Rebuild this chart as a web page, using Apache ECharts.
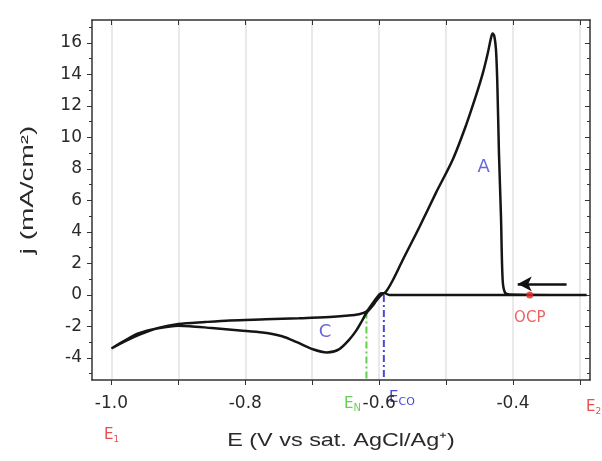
<!DOCTYPE html>
<html><head><meta charset="utf-8">
<script src="https://cdn.jsdelivr.net/npm/echarts@6/dist/echarts.min.js"></script>
<style>html,body{margin:0;padding:0;background:#fff}#c{width:602px;height:461px}</style>
</head><body><div id="c"></div>
<script>
// Cyclic voltammogram: potential E (V) and current density j (mA/cm2)
const sweepE = [-0.29,-0.40,-0.50,-0.585,-0.592,-0.598,-0.604,-0.611,-0.619,-0.63,-0.65,-0.674,-0.72,-0.77,-0.823,-0.86,-0.90,-0.93,-0.957,-0.98,-1.0,
  -0.98,-0.96,-0.93,-0.90,-0.883,-0.85,-0.808,-0.774,-0.745,-0.723,-0.699,-0.678,-0.66,-0.645,-0.634,-0.625,-0.619,-0.61,-0.604,-0.597,-0.59,-0.58,-0.565,-0.54,-0.515,-0.49,-0.47,-0.455,-0.445,-0.438,-0.433,-0.4305,-0.428,-0.4255,-0.4235,-0.421,-0.418,-0.4155,-0.412,-0.405,-0.29];
const sweepJ = [0,0,0,0,0.12,0.1,-0.2,-0.6,-1.05,-1.22,-1.32,-1.4,-1.48,-1.55,-1.62,-1.72,-1.85,-2.1,-2.5,-2.95,-3.4,
  -2.9,-2.45,-2.12,-1.95,-1.98,-2.1,-2.25,-2.38,-2.62,-3.0,-3.45,-3.65,-3.45,-2.85,-2.25,-1.6,-1.15,-0.7,-0.35,0.0,0.2,0.9,2.2,4.3,6.5,8.6,10.8,12.7,14.1,15.3,16.3,16.6,16.45,15.6,13.5,9.0,5.0,0.95,0.15,0.03,0];
const eN = -0.619, eNj = -1.05;
const eCO = -0.593, eCOj = 0;
const ocpE = -0.375, ocpJ = 0;
const arrowFrom = [-0.32, 0.7], arrowTo = [-0.393, 0.7];
const peakLabels = [{name:'A', E:-0.444, j:8.1}, {name:'C', E:-0.681, j:-2.4}];
const xMin = -1.029, xMax = -0.285, yMin = -5.4, yMax = 17.46;
const xTicks = [-1.0,-0.9,-0.8,-0.7,-0.6,-0.5,-0.4,-0.3];
const xLabels = [-1.0,-0.8,-0.6,-0.4];
const yMajor = [-4,-2,0,2,4,6,8,10,12,14,16];
const yMinor = [-5,-3,-1,1,3,5,7,9,11,13,15,17];
const xTitle = 'E (V vs sat. AgCl/Ag\u207A)';
const yTitle = 'j (mA/cm\u00B2)';

const FONT = 'DejaVu Sans, Liberation Sans, sans-serif';
const AX = '#333';
function xAx(pos, inside, labels, grid) {
  return {type:'value', position:pos, min:xMin, max:xMax,
    axisLine:{show:true, onZero:false, lineStyle:{color:AX, width:1.5}},
    axisTick:{show:true, inside:inside, length:5, customValues:xTicks, lineStyle:{color:AX}},
    axisLabel:{show:labels, customValues:xLabels, margin:15, color:'#2a2a2a', fontSize:17, fontFamily:FONT,
      formatter:v=>v.toFixed(1)},
    splitLine:{show:grid, lineStyle:{color:'#e2e2e2', width:1.5}}};
}
function yAx(pos, inside, vals, len, labels, line) {
  return {type:'value', position:pos, min:yMin, max:yMax,
    axisLine:{show:line, onZero:false, lineStyle:{color:AX, width:1.5}},
    axisTick:{show:true, inside:inside, length:len, customValues:vals, lineStyle:{color:AX}},
    axisLabel:{show:labels, customValues:vals, margin:10, color:'#2a2a2a', fontSize:17, fontFamily:FONT},
    splitLine:{show:false}};
}

const chart = echarts.init(document.getElementById('c'), null, {renderer:'canvas'});
chart.setOption({
  animation:false,
  backgroundColor:'#fff',
  grid:{left:92, right:12, top:20, bottom:81},
  xAxis:[xAx('bottom', false, true, true), xAx('top', true, false, false)],
  yAxis:[yAx('left', false, yMajor, 5, true, true), yAx('left', false, yMinor, 3, false, false),
         yAx('right', true, yMajor, 5, false, true), yAx('right', true, yMinor, 3, false, false)],
  series:[
    {type:'line', data: sweepE.map((e,i)=>[e, sweepJ[i]]), showSymbol:false, smooth:0.3,
     lineStyle:{color:'#151515', width:2.5}, z:5},
    {type:'line', data:[[eN, eNj],[eN, yMin]], showSymbol:false,
     lineStyle:{color:'#5fd04a', width:2, type:[7,3,2,3]}, z:4},
    {type:'line', data:[[eCO, eCOj],[eCO, yMin]], showSymbol:false,
     lineStyle:{color:'#4848d8', width:2, type:[7,3,2,3]}, z:4},
    {type:'scatter', data:[[ocpE, ocpJ]], symbolSize:7, itemStyle:{color:'#e82828'}, z:6,
     label:{show:true, formatter:'OCP', position:'bottom', distance:12, color:'#e83a3a', fontSize:15, fontFamily:FONT},
     markLine:{silent:true, symbol:['none','arrow'], symbolSize:[11,14],
       lineStyle:{color:'#111', width:2.5, type:'solid'}, label:{show:false},
       data:[[{coord:arrowFrom},{coord:arrowTo}]]}},
    {type:'scatter', data: peakLabels.map(p=>({name:p.name, value:[p.E, p.j]})), symbolSize:0, z:6,
     label:{show:true, position:'inside', formatter:'{b}', color:'#4141d2', fontSize:18, fontFamily:FONT}}
  ],
  graphic:[
    {type:'text', x:341, y:441, scaleX:1.3, style:{text:xTitle, font:'18px Liberation Sans', fill:'#2a2a2a', align:'center', verticalAlign:'middle'}},
    {type:'text', x:28, y:190, rotation:Math.PI/2, scaleX:1.55, style:{text:yTitle, font:'18px Liberation Sans', fill:'#2a2a2a', align:'center', verticalAlign:'middle'}},
    {type:'text', left:344, top:397, style:{text:'{e|E}{s|N}', rich:{e:{fontSize:15, fill:'#66d050', fontFamily:FONT}, s:{fontSize:10, fill:'#66d050', fontFamily:FONT, padding:[8,0,0,0]}}}},
    {type:'text', left:389, top:391, style:{text:'{e|E}{s|CO}', rich:{e:{fontSize:15, fill:'#4848d8', fontFamily:FONT}, s:{fontSize:11, fill:'#4848d8', fontFamily:FONT, padding:[8,0,0,0]}}}},
    {type:'text', left:104, top:428, style:{text:'{e|E}{s|1}', rich:{e:{fontSize:15, fill:'#e85050', fontFamily:FONT}, s:{fontSize:9, fill:'#e85050', fontFamily:FONT, padding:[8,0,0,0]}}}},
    {type:'text', left:586, top:400, style:{text:'{e|E}{s|2}', rich:{e:{fontSize:15, fill:'#e85050', fontFamily:FONT}, s:{fontSize:9, fill:'#e85050', fontFamily:FONT, padding:[8,0,0,0]}}}}
  ]
});
</script></body></html>
